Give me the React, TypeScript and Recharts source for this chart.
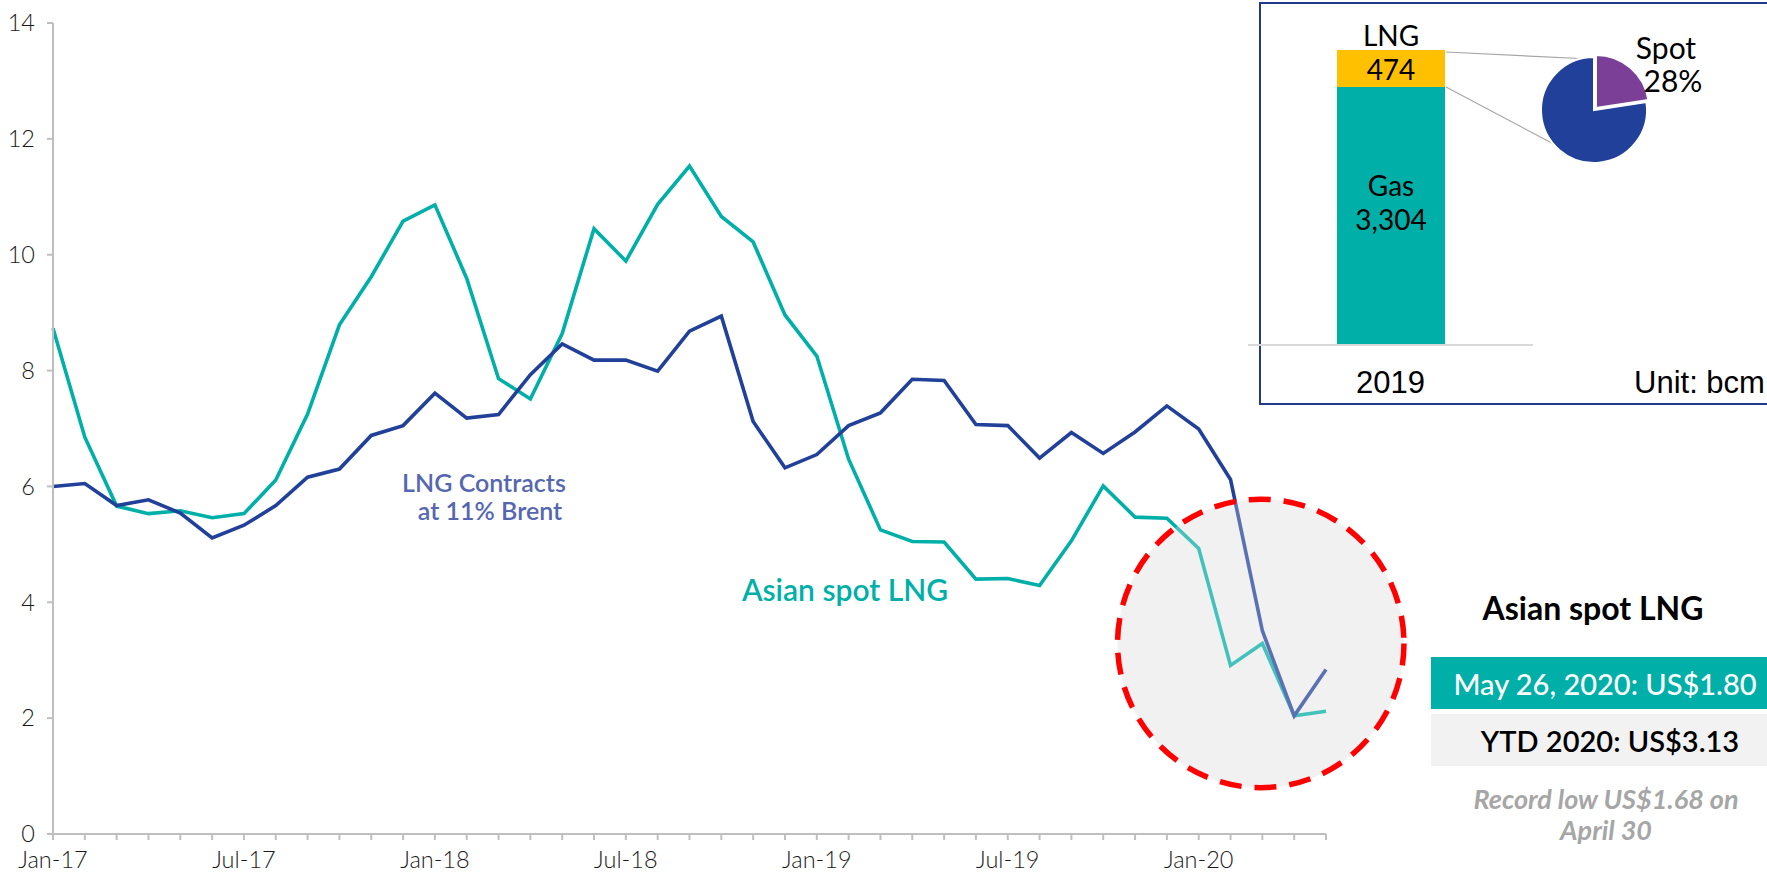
import React from 'react'
import {
  LineChart,
  Line,
  XAxis,
  YAxis,
  ReferenceArea,
  BarChart,
  Bar,
  LabelList,
  PieChart,
  Pie,
  Cell,
} from 'recharts'

const months = [
  'Jan-17', 'Feb-17', 'Mar-17', 'Apr-17', 'May-17', 'Jun-17', 'Jul-17', 'Aug-17', 'Sep-17', 'Oct-17', 'Nov-17', 'Dec-17',
  'Jan-18', 'Feb-18', 'Mar-18', 'Apr-18', 'May-18', 'Jun-18', 'Jul-18', 'Aug-18', 'Sep-18', 'Oct-18', 'Nov-18', 'Dec-18',
  'Jan-19', 'Feb-19', 'Mar-19', 'Apr-19', 'May-19', 'Jun-19', 'Jul-19', 'Aug-19', 'Sep-19', 'Oct-19', 'Nov-19', 'Dec-19',
  'Jan-20', 'Feb-20', 'Mar-20', 'Apr-20', 'May-20',
]

// US$/MMBtu
const asianSpot = [
  8.73, 6.85, 5.66, 5.53, 5.58, 5.46, 5.53, 6.11, 7.25, 8.79, 9.62, 10.58,
  10.86, 9.59, 7.86, 7.51, 8.64, 10.45, 9.89, 10.87, 11.53, 10.66, 10.22, 8.96,
  8.25, 6.47, 5.25, 5.05, 5.04, 4.4, 4.41, 4.29, 5.06, 6.01, 5.47, 5.45,
  4.93, 2.91, 3.29, 2.04, 2.12,
]

const lngContracts = [
  6.0, 6.05, 5.67, 5.77, 5.54, 5.11, 5.33, 5.67, 6.16, 6.3, 6.88, 7.05,
  7.61, 7.18, 7.24, 7.93, 8.46, 8.18, 8.18, 7.99, 8.68, 8.94, 7.12, 6.32,
  6.55, 7.05, 7.27, 7.85, 7.83, 7.07, 7.05, 6.49, 6.93, 6.57, 6.94, 7.39,
  6.99, 6.12, 3.51, 2.04, 2.84,
]

const yTicks = [0, 2, 4, 6, 8, 10, 12, 14]

// highlighted zone (month index / price units)
const zoneX = [33.45, 42.45]
const zoneY = [0.8, 5.78]

// inset: 2019 gas demand, bcm
const insetYears = ['2019']
const gasVolume = [3304]
const lngVolume = [474]
const lngSplit = [
  { name: 'Spot', value: 22.6 },
  { name: 'Contract', value: 77.4 },
]

const TEAL = '#00B0A8'
const NAVY = '#21409A'
const AXIS = '#BFBFBF'
const LATO = 'Lato, "Open Sans", sans-serif'
const ARIAL = '"Liberation Sans", Arial, sans-serif'

const rows = months.map((m, i) => ({
  i,
  month: m,
  spot: asianSpot[i],
  contract: lngContracts[i],
}))

const insetRows = insetYears.map((y, i) => ({
  year: y,
  gas: gasVolume[i],
  lng: lngVolume[i],
}))

const zoneShape = (fill: string, opacity: number, stroke?: string) => (p: any) => {
  const top = Math.min(p.y, p.y + p.height)
  const h = Math.abs(p.height)
  return (
    <ellipse
      cx={p.x + p.width / 2}
      cy={top + h / 2}
      rx={Math.abs(p.width) / 2}
      ry={h / 2}
      fill={fill}
      fillOpacity={opacity}
      stroke={stroke || 'none'}
      strokeWidth={stroke ? 5.5 : 0}
      strokeDasharray={stroke ? '22 13' : undefined}
    />
  )
}

function Txt(props: any) {
  const { x, y, size, color = '#000', weight = 400, italic, family = LATO, anchor = 'center', children } = props
  const tx = anchor === 'center' ? '-50%' : anchor === 'end' ? '-100%' : '0'
  return (
    <div
      style={{
        position: 'absolute',
        left: x,
        top: y,
        transform: `translate(${tx}, -50%)`,
        fontSize: size,
        lineHeight: 1,
        color,
        fontWeight: weight,
        fontStyle: italic ? 'italic' : 'normal',
        fontFamily: family,
        whiteSpace: 'nowrap',
      }}
    >
      {children}
    </div>
  )
}

const gasLabel = (p: any) => {
  const cx = p.x + p.width / 2
  const cy = p.y + p.height / 2
  return (
    <g fontFamily={LATO} fontSize={28} fill="#000" textAnchor="middle">
      <text x={cx} y={cy - 31} dominantBaseline="central">Gas</text>
      <text x={cx} y={cy + 3} dominantBaseline="central">{Number(p.value).toLocaleString('en-US')}</text>
    </g>
  )
}

const lngLabel = (p: any) => {
  const cx = p.x + p.width / 2
  return (
    <g fontFamily={LATO} fontSize={28} fill="#000" textAnchor="middle">
      <text x={cx} y={p.y - 15} dominantBaseline="central">LNG</text>
      <text x={cx} y={p.y + p.height / 2} dominantBaseline="central">{p.value}</text>
    </g>
  )
}

export default function App() {
  return (
    <div
      style={{
        position: 'absolute',
        left: 0,
        top: 0,
        width: 1767,
        height: 875,
        overflow: 'hidden',
        background: '#fff',
      }}
    >
      <LineChart width={1767} height={875} data={rows} margin={{ top: 23, right: 441, bottom: 0, left: 0 }}>
        <XAxis
          dataKey="i"
          type="number"
          domain={[0, 40]}
          ticks={rows.map((r) => r.i)}
          interval={0}
          tickFormatter={(v: number) => (v % 6 === 0 ? months[v] : '')}
          height={41}
          axisLine={{ stroke: AXIS, strokeWidth: 2 }}
          tickLine={{ stroke: AXIS, strokeWidth: 2 }}
          tickSize={6}
          tickMargin={11}
          tick={{ fontSize: 23.5, fill: '#1a1a1a', fontFamily: LATO, fontWeight: 300 }}
        />
        <YAxis
          domain={[0, 14]}
          ticks={yTicks}
          width={53}
          axisLine={{ stroke: AXIS, strokeWidth: 2 }}
          tickLine={{ stroke: AXIS, strokeWidth: 2 }}
          tickSize={6}
          tickMargin={12}
          tick={{ fontSize: 23.5, fill: '#1a1a1a', fontFamily: LATO, fontWeight: 300 }}
        />
        <ReferenceArea
          x1={zoneX[0]}
          x2={zoneX[1]}
          y1={zoneY[0]}
          y2={zoneY[1]}
          ifOverflow="visible"
          shape={zoneShape('#F2F2F2', 1)}
          zIndex={50}
        />
        <Line
          type="linear"
          dataKey="spot"
          stroke={TEAL}
          strokeWidth={3.6}
          dot={false}
          isAnimationActive={false}
        />
        <Line
          type="linear"
          dataKey="contract"
          stroke={NAVY}
          strokeWidth={3.6}
          dot={false}
          isAnimationActive={false}
        />
        <ReferenceArea
          x1={zoneX[0]}
          x2={zoneX[1]}
          y1={zoneY[0]}
          y2={zoneY[1]}
          ifOverflow="visible"
          shape={zoneShape('#F2F2F2', 0.28, '#FF0000')}
          zIndex={1000}
        />
      </LineChart>

      <Txt x={484} y={482} size={25} color="#5567B1" weight={600}>LNG Contracts</Txt>
      <Txt x={490} y={510} size={25} color="#5567B1" weight={600}>at 11% Brent</Txt>
      <Txt x={845} y={589} size={30} color={TEAL} weight={600}>Asian spot LNG</Txt>

      {/* inset */}
      <div
        style={{
          position: 'absolute',
          left: 1259,
          top: 2,
          width: 600,
          height: 403,
          boxSizing: 'border-box',
          border: '2.5px solid #1F3A87',
        }}
      />
      <div style={{ position: 'absolute', left: 1248, top: 0 }}>
        <BarChart width={285} height={410} data={insetRows} margin={{ top: 50, right: 0, bottom: 0, left: 0 }}>
          <XAxis
            dataKey="year"
            height={65}
            axisLine={{ stroke: '#D9D9D9', strokeWidth: 2 }}
            tickLine={false}
            tickSize={0}
            tickMargin={26}
            tick={{ fontSize: 31, fill: '#000', fontFamily: ARIAL }}
          />
          <YAxis hide domain={[0, gasVolume[0] + lngVolume[0]]} />
          <Bar dataKey="gas" stackId="a" fill={TEAL} barSize={108} isAnimationActive={false}>
            <LabelList dataKey="gas" content={gasLabel} />
          </Bar>
          <Bar dataKey="lng" stackId="a" fill="#FFC000" barSize={108} isAnimationActive={false}>
            <LabelList dataKey="lng" content={lngLabel} />
          </Bar>
        </BarChart>
      </div>
      <svg style={{ position: 'absolute', left: 0, top: 0 }} width={1767} height={420}>
        <line x1={1446} y1={52} x2={1590} y2={59} stroke="#A6A6A6" strokeWidth={1.2} />
        <line x1={1446} y1={87} x2={1563} y2={149} stroke="#A6A6A6" strokeWidth={1.2} />
      </svg>
      <div style={{ position: 'absolute', left: 1514, top: 30 }}>
        <PieChart width={160} height={160} margin={{ top: 0, right: 0, bottom: 0, left: 0 }}>
          <Pie
            data={lngSplit}
            dataKey="value"
            cx={80}
            cy={80}
            outerRadius={53}
            startAngle={90}
            endAngle={-270}
            isAnimationActive={false}
          >
            <Cell fill="transparent" stroke="none" />
            <Cell fill={NAVY} stroke="#fff" strokeWidth={2} />
          </Pie>
          <Pie
            data={lngSplit}
            dataKey="value"
            cx={82}
            cy={78}
            outerRadius={53}
            startAngle={90}
            endAngle={-270}
            isAnimationActive={false}
          >
            <Cell fill="#7B3F98" stroke="#fff" strokeWidth={2} />
            <Cell fill="transparent" stroke="none" />
          </Pie>
        </PieChart>
      </div>
      <Txt x={1666} y={47} size={30}>Spot</Txt>
      <Txt x={1673} y={80} size={30}>28%</Txt>
      <Txt x={1634} y={382} size={31} family={ARIAL} anchor="start">Unit: bcm</Txt>

      {/* right-hand callout */}
      <Txt x={1593} y={608} size={32} weight={700}>Asian spot LNG</Txt>
      <div style={{ position: 'absolute', left: 1431, top: 657, width: 400, height: 52, background: TEAL }} />
      <Txt x={1605} y={683} size={29} color="#fff" weight={500}>May 26, 2020: US$1.80</Txt>
      <div style={{ position: 'absolute', left: 1431, top: 714, width: 400, height: 52, background: '#F2F2F2' }} />
      <Txt x={1610} y={740} size={29} weight={600}>YTD 2020: US$3.13</Txt>
      <Txt x={1606} y={798} size={27} color="#A6A6A6" weight={700} italic>Record low US$1.68 on</Txt>
      <Txt x={1606} y={829} size={27} color="#A6A6A6" weight={700} italic>April 30</Txt>
    </div>
  )
}
